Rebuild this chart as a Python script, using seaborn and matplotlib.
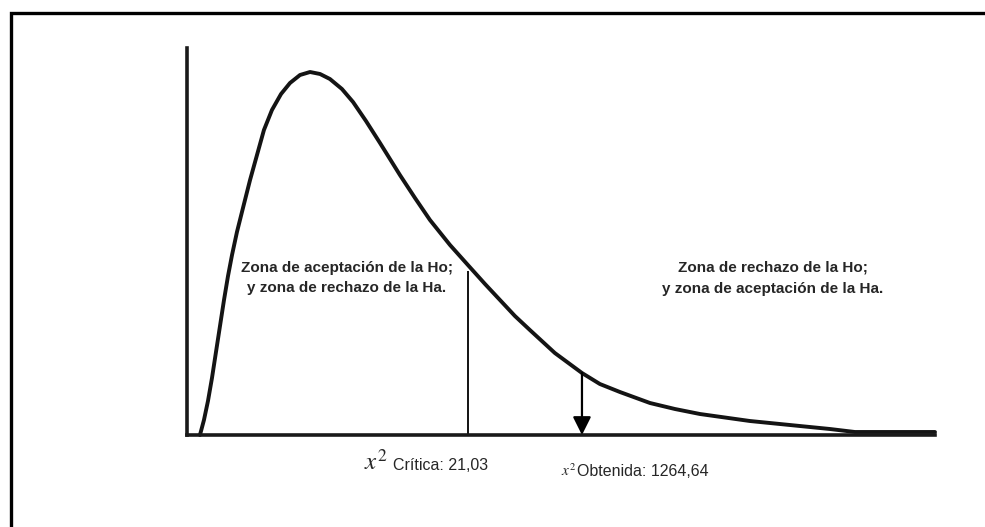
import matplotlib
matplotlib.use("Agg")
import matplotlib.pyplot as plt
import matplotlib.patches as patches
import pandas as pd
import seaborn as sns

# curve (chi-square like shape)
curve_x = [0.97, 1.27, 1.57, 1.87, 2.17, 2.47, 2.77, 3.07, 3.37, 3.74, 4.19,
           4.72, 5.24, 5.76, 6.36, 7.04, 7.71, 8.46, 9.21, 9.96, 10.70, 11.60,
           12.43, 13.40, 14.45, 15.94, 17.07, 18.19, 19.69, 21.03, 22.31,
           23.43, 24.55, 25.67, 27.54, 29.57, 30.91, 32.41, 34.66, 36.53,
           38.40, 42.14, 45.88, 48.13, 50.0, 51.87, 56.0]
curve_y = [0.0, 0.00375, 0.0085, 0.01425, 0.02075, 0.02725, 0.03375, 0.03975,
           0.045, 0.05075, 0.05675, 0.06375, 0.07, 0.07625, 0.08125, 0.08525,
           0.088, 0.09, 0.09075, 0.09025, 0.089, 0.0865, 0.08325, 0.0785,
           0.073, 0.065, 0.05925, 0.05375, 0.0475, 0.0425, 0.03775, 0.03375,
           0.02975, 0.02625, 0.0205, 0.0155, 0.01275, 0.01075, 0.008, 0.0065,
           0.00525, 0.0035, 0.00225, 0.0015, 0.00075, 0.00075, 0.00075]

x_critica = 21.03
y_critica = 0.041
x_obtenida = 29.57
y_obtenida = 0.0155

txt_acepta = ["Zona de aceptación de la Ho;", "y zona de rechazo de la Ha."]
txt_rechaza = ["Zona de rechazo de la Ho;", "y zona de aceptación de la Ha."]
lbl_critica = "Crítica: 21,03"
lbl_obtenida = "Obtenida: 1264,64"

sns.set_style("white")
plt.rcParams["mathtext.fontset"] = "stix"
sans = ["Liberation Sans", "DejaVu Sans"]

W, H = 985, 527
fig = plt.figure(figsize=(W / 100, H / 100), dpi=100)

def fx(px):
    return px / W

def fy(py):
    return 1 - py / H

# outer frame (cut off on right/bottom like the source)
fig.patches.append(patches.Rectangle((fx(11), -0.1), 1.2, fy(13) + 0.1,
                                     transform=fig.transFigure, fill=False,
                                     lw=2.4, edgecolor="black"))

ax = fig.add_axes([fx(187), fy(435), fx(935) - fx(187), fy(48) - fy(435)])
df = pd.DataFrame({"x": curve_x, "y": curve_y})
sns.lineplot(data=df, x="x", y="y", ax=ax, color="#141414", lw=2.8,
             sort=False, clip_on=False, solid_joinstyle="round",
             solid_capstyle="round")

ax.set_xlim(0, 56.0)
ax.set_ylim(0, 0.09675)
ax.set_xticks([])
ax.set_yticks([])
ax.set_xlabel("")
ax.set_ylabel("")
sns.despine(ax=ax)
for s in ["left", "bottom"]:
    ax.spines[s].set_linewidth(2.6)
    ax.spines[s].set_color("#1a1a1a")
ax.patch.set_alpha(0)

ax.vlines(x_critica, 0, y_critica, color="black", lw=1.3)
ax.annotate("", xy=(x_obtenida, 0), xytext=(x_obtenida, y_obtenida),
            arrowprops=dict(arrowstyle="-|>,head_length=1.1,head_width=0.55",
                            mutation_scale=10, color="black", lw=1.6,
                            shrinkA=0, shrinkB=0))

# zone labels, one text per line
for i, line in enumerate(txt_acepta):
    fig.text(fx(347), fy(268 + 20 * i), line, ha="center", va="center",
             family=sans, weight="bold", fontsize=11)
for i, line in enumerate(txt_rechaza):
    fig.text(fx(773), fy(268 + 21 * i), line, ha="center", va="center",
             family=sans, weight="bold", fontsize=11)

fig.text(fx(364), fy(470), r"$x^2$", ha="left", va="baseline", fontsize=18)
fig.text(fx(393), fy(470), lbl_critica, ha="left", va="baseline",
         family=sans, fontsize=11.5)
fig.text(fx(561), fy(476), r"$x^2$", ha="left", va="baseline", fontsize=11)
fig.text(fx(577), fy(476), lbl_obtenida, ha="left", va="baseline",
         family=sans, fontsize=11.5)

fig.savefig("out.png", dpi=100)
